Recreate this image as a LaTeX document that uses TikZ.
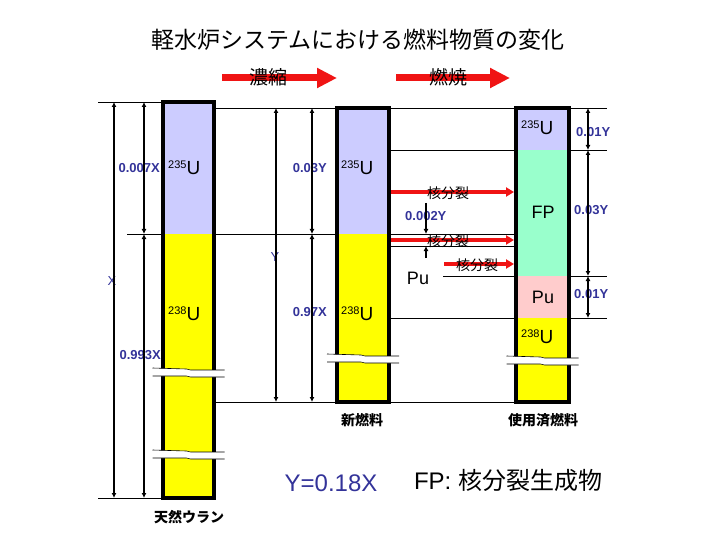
\documentclass[tikz,border=0pt]{standalone}
\usepackage{fontspec}
\setmainfont{Liberation Sans}
\newfontfamily\jpfont{Noto Sans CJK JP}
\usetikzlibrary{arrows.meta,positioning,calc}

\definecolor{uvio}{HTML}{CCCCFF}
\definecolor{uyel}{HTML}{FFFF00}
\definecolor{fpgrn}{HTML}{99FFCC}
\definecolor{pupnk}{HTML}{FFCCCC}
\definecolor{dimblu}{HTML}{333399}
\definecolor{arred}{HTML}{F01414}

\newcommand{\isoU}[1]{{\fontsize{11}{11}\selectfont\raisebox{5.5pt}{#1}}{\fontsize{19}{19}\selectfont U}}

\begin{document}
\begin{tikzpicture}[x=1pt,y=-1pt,
   lvl/.style={line width=0.8pt},
   colbox/.style={line width=3.5pt},
   dim/.style={{Latex[length=5pt,width=5pt]}-{Latex[length=5pt,width=5pt]},line width=1.4pt},
   half/.style={-{Latex[length=5pt,width=5pt]},line width=1.4pt},
   bigarr/.style={arred,line width=7pt,-{Triangle[length=20pt,width=19pt]}},
   fisarr/.style={arred,line width=4pt,-{Triangle[length=8pt,width=9pt]}},
   lbl/.style={text=dimblu,font=\fontsize{13}{13}\selectfont\bfseries,inner sep=0pt},
   jp/.style={font=\jpfont\fontsize{14}{14}\selectfont,inner sep=0pt},
   brk/.pic={
     \fill[white] (-36,-4) -- (-2,-3) -- (2,-2) -- (36,-2) -- (36,5) -- (2,5) -- (-2,4) -- (-36,4) -- cycle;
     \draw[line width=0.6pt] (-36,-4) -- (-2,-3) -- (2,-2) -- (36,-2);
     \draw[line width=0.6pt] (-36,4) -- (-2,4) -- (2,5) -- (36,5);
   }]
  \useasboundingbox (0,0) rectangle (720,540);

  % level lines
  \draw[lvl] (98,102) -- (163,102);
  \draw[lvl] (98,498) -- (163,498);
  \draw[lvl] (127,234) -- (516,234);
  \draw[lvl] (214,108) -- (337,108);
  \draw[lvl] (389,108) -- (607,108);
  \draw[lvl] (214,402) -- (516,402);
  \draw[lvl] (389,150) -- (607,150);
  \draw[lvl] (389,246) -- (516,246);
  \draw[lvl] (443,276) -- (607,276);
  \draw[lvl] (389,318) -- (607,318);

  % natural uranium
  \fill[uvio] (163,102) rectangle (214,234);
  \fill[uyel] (163,234) rectangle (214,498);
  \draw[colbox] (163,102) rectangle (214,498);
  % fresh fuel
  \fill[uvio] (337,108) rectangle (389,234);
  \fill[uyel] (337,234) rectangle (389,402);
  \draw[colbox] (337,108) rectangle (389,402);
  % spent fuel
  \fill[uvio] (516,108) rectangle (569,150);
  \fill[fpgrn] (516,150) rectangle (569,276);
  \fill[pupnk] (516,276) rectangle (569,318);
  \fill[uyel] (516,318) rectangle (569,402);
  \draw[colbox] (516,108) rectangle (569,402);

  \pic at (188.5,372) {brk};
  \pic at (188.5,454) {brk};
  \pic at (363,358) {brk};
  \pic at (542.5,360) {brk};

  % dimension points
  \coordinate (a1) at (114,102); \coordinate (a2) at (114,498);
  \coordinate (b1) at (144,102); \coordinate (b2) at (144,234); \coordinate (b3) at (144,498);
  \coordinate (c1) at (276,108); \coordinate (c2) at (276,402);
  \coordinate (d1) at (312,108); \coordinate (d2) at (312,234); \coordinate (d3) at (312,402);
  \coordinate (e1) at (588,108); \coordinate (e2) at (588,150);
  \coordinate (e3) at (588,276); \coordinate (e4) at (588,318);
  \coordinate (f1) at (426,203); \coordinate (f2) at (426,234);
  \coordinate (f3) at (426,258); \coordinate (f4) at (426,246);

  \node[lbl,anchor=east] (l007) at (160,168) {0.007X};
  \node[lbl,anchor=east] (l993) at (161,355) {0.993X};
  \node[lbl,font=\fontsize{13}{13}\selectfont] (lx) at (112,281) {X};
  \node[lbl,anchor=east] (l03) at (327,168) {0.03Y};
  \node[lbl,anchor=east] (l97) at (327,312) {0.97X};
  \node[lbl,font=\fontsize{13}{13}\selectfont] (ly) at (275,257) {Y};
  \node[lbl,anchor=west] (r01a) at (576,132) {0.01Y};
  \node[lbl,anchor=west] (r03) at (574,210) {0.03Y};
  \node[lbl,anchor=west] (r01b) at (574,294) {0.01Y};
  \node[lbl,anchor=west] (l002) at (405,216) {0.002Y};

  \draw[dim] (a1) -- (a2);
  \draw[dim] (b1) -- (b2);
  \draw[dim] (b2) -- (b3);
  \draw[dim] (c1) -- (c2);
  \draw[dim] (d1) -- (d2);
  \draw[dim] (d2) -- (d3);
  \draw[dim] (e1) -- (e2);
  \draw[dim] (e2) -- (e3);
  \draw[dim] (e3) -- (e4);
  \draw[half] (f1) -- (f2);
  \draw[half] (f3) -- (f4);

  % isotopes
  \node[inner sep=0pt,anchor=west] (u5a) at (168,168) {\isoU{235}};
  \node[inner sep=0pt,anchor=west] (u8a) at (168,314) {\isoU{238}};
  \node[inner sep=0pt,anchor=west] (u5b) at (341,168) {\isoU{235}};
  \node[inner sep=0pt,anchor=west] (u8b) at (341,314) {\isoU{238}};
  \node[inner sep=0pt,anchor=west] (u5c) at (521,128) {\isoU{235}};
  \node[inner sep=0pt,anchor=west] (u8c) at (521,337) {\isoU{238}};
  \node[font=\fontsize{18}{18}\selectfont] (fp) at (543,212) {FP};
  \node[font=\fontsize{18}{18}\selectfont] (puc) at (543,297) {Pu};
  \node[font=\fontsize{18}{18}\selectfont] (pum) at (418,278) {Pu};

  % red arrows
  \coordinate (r1s) at (222,78); \coordinate (r1e) at (337,78);
  \coordinate (r2s) at (396,78); \coordinate (r2e) at (510,78);
  \coordinate (k1s) at (391,192); \coordinate (k1e) at (514,192);
  \coordinate (k2s) at (391,240); \coordinate (k2e) at (514,240);
  \coordinate (k3s) at (444,264); \coordinate (k3e) at (514,264);
  \draw[bigarr] (r1s) -- (r1e);
  \draw[bigarr] (r2s) -- (r2e);
  \draw[fisarr] (k1s) -- (k1e);
  \draw[fisarr] (k2s) -- (k2e);
  \draw[fisarr] (k3s) -- (k3e);
  \node[jp,font=\jpfont\fontsize{19}{19}\selectfont] (noshuku) at (268,77) {濃縮};
  \node[jp,font=\jpfont\fontsize{19}{19}\selectfont] (nensho) at (448,77) {燃焼};
  \node[jp] (kb1) at (448,193) {核分裂};
  \node[jp] (kb2) at (448,241) {核分裂};
  \node[jp] (kb3) at (477,265) {核分裂};

  % titles
  \node[jp,font=\jpfont\fontsize{23}{23}\selectfont] (title) at (358,40) {軽水炉システムにおける燃料物質の変化};
  \node[jp,font=\jpfont\bfseries\fontsize{14}{14}\selectfont] (shin) at (362,420) {新燃料};
  \node[jp,font=\jpfont\bfseries\fontsize{14}{14}\selectfont] (shiyo) at (543,420) {使用済燃料};
  \node[jp,font=\jpfont\bfseries\fontsize{14}{14}\selectfont] (tennen) at (189,517) {天然ウラン};
  \node[text=dimblu,font=\fontsize{24}{24}\selectfont] (ratio) at (331,483) {Y=0.18X};
  \node[font=\fontsize{24}{24}\selectfont] (fpnote) at (508,480) {FP: {\jpfont 核分裂生成物}};
\end{tikzpicture}
\end{document}
